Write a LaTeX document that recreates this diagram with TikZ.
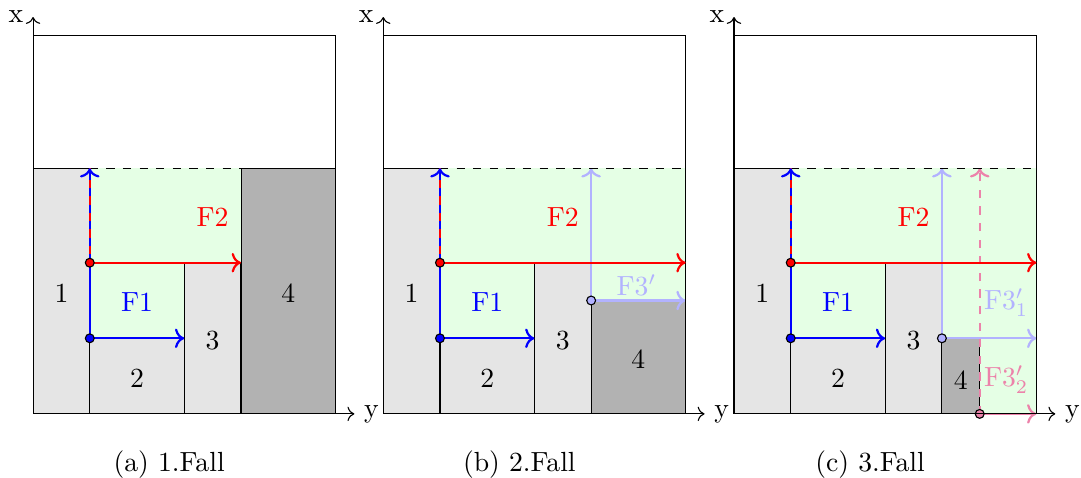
\documentclass[tikz,border=0pt]{standalone}
\usetikzlibrary{arrows.meta}
\definecolor{softpink}{RGB}{236,130,170}
\pgfdeclarelayer{bg}
\pgfsetlayers{bg,main}

\begin{document}
\begin{tikzpicture}[x=0.24cm,y=0.24cm,>=To,
   free/.style={fill=green!10},
   block/.style={draw,fill=gray!20},
   placed/.style={draw,fill=gray!60},
   flow/.style={thick,->},
   dot/.style={circle,draw,inner sep=0pt,minimum size=3.2pt}]
  \useasboundingbox (-1.75,-3.39) rectangle (55.45,21.9);

  % 1.Fall
  \begin{scope}
    \begin{pgfonlayer}{bg}
      \draw[placed] (11,0) rectangle (16,13);
    \end{pgfonlayer}
    \node (a-n4) at (13.5,6.4) {4};
  \end{scope}

  % 2.Fall
  \begin{scope}[shift={(18.53,0)}]
    \begin{pgfonlayer}{bg}
      \fill[free] (11,6) rectangle (16,8);
      \draw[placed] (11,0) rectangle (16,6);
    \end{pgfonlayer}
    \coordinate (b-f3) at (11,6);
    \coordinate (b-f3u) at (11,13);
    \coordinate (b-f3r) at (16,6);
    \draw[flow,blue!30] (b-f3) -- (b-f3u);
    \draw[flow,blue!30] (b-f3) -- (b-f3r);
    \node[dot,fill=blue!30] (b-d3) at (b-f3) {};
    \node (b-n4) at (13.5,2.9) {4};
    \node[blue!30] (b-F3) at (13.4,6.8) {F3$'$};
  \end{scope}

  % 3.Fall
  \begin{scope}[shift={(37.09,0)}]
    \begin{pgfonlayer}{bg}
      \fill[free] (11,4) rectangle (16,8) (13,0) rectangle (16,4);
      \draw[placed] (11,0) rectangle (13,4);
    \end{pgfonlayer}
    \coordinate (c-f3) at (11,4);
    \coordinate (c-f3u) at (11,13);
    \coordinate (c-f3r) at (16,4);
    \coordinate (c-f4) at (13,0);
    \coordinate (c-f4u) at (13,13);
    \coordinate (c-f4r) at (16,0);
    \draw[flow,blue!30] (c-f3) -- (c-f3u);
    \draw[flow,blue!30] (c-f3) -- (c-f3r);
    \draw[flow,softpink,dashed] (c-f4) -- (c-f4u);
    \draw[flow,softpink] (c-f4) -- (c-f4r);
    \node[dot,fill=blue!30] (c-d3) at (c-f3) {};
    \node[dot,fill=softpink] (c-d4) at (c-f4) {};
    \node (c-n4) at (12,1.8) {4};
    \node[blue!30] (c-F31) at (14.4,5.9) {F3$'_1$};
    \node[softpink] (c-F32) at (14.4,1.8) {F3$'_2$};
  \end{scope}

  % what the three cases share
  \foreach \p/\s/\r/\cap in {a/0/11/{(a) 1.Fall},b/18.53/16/{(b) 2.Fall},c/37.09/16/{(c) 3.Fall}}{
  \begin{scope}[shift={(\s,0)}]
    \begin{pgfonlayer}{bg}
      \fill[free] (3,4) rectangle (8,8) (3,8) rectangle (\r,13);
      \draw[block] (0,0) rectangle (3,13) (3,0) rectangle (8,4) (8,0) rectangle (11,8);
    \end{pgfonlayer}
    \coordinate (\p-o) at (0,0);
    \coordinate (\p-top) at (16,20);
    \coordinate (\p-x) at (0,21);
    \coordinate (\p-y) at (17,0);
    \coordinate (\p-f1) at (3,4);
    \coordinate (\p-f1e) at (8,4);
    \coordinate (\p-f2) at (3,8);
    \coordinate (\p-f2e) at (\r,8);
    \coordinate (\p-up) at (3,13);
    \coordinate (\p-lid) at (\r,13);
    \draw (\p-o) rectangle (\p-top);
    \draw[dashed] (\p-up) -- (\p-lid);
    \draw[->] (\p-o) -- (\p-x) node[left] (\p-xl) {x};
    \draw[->] (\p-o) -- (\p-y) node[right] (\p-yl) {y};
    \draw[thick,blue] (\p-f1) -- (\p-f2);
    \draw[thick,red] (\p-f2) -- (\p-up);
    \draw[flow,blue,dashed] (\p-f2) -- (\p-up);
    \draw[flow,blue] (\p-f1) -- (\p-f1e);
    \draw[flow,red] (\p-f2) -- (\p-f2e);
    \node[dot,fill=blue] (\p-d1) at (\p-f1) {};
    \node[dot,fill=red] (\p-d2) at (\p-f2) {};
    \node (\p-n1) at (1.5,6.4) {1};
    \node (\p-n2) at (5.5,1.9) {2};
    \node (\p-n3) at (9.5,3.9) {3};
    \node[blue] (\p-F1) at (5.5,5.9) {F1};
    \node[red] (\p-F2) at (9.5,10.4) {F2};
    \node (\p-cap) at (7.2,-2.7) {\cap};
  \end{scope}}
\end{tikzpicture}
\end{document}
